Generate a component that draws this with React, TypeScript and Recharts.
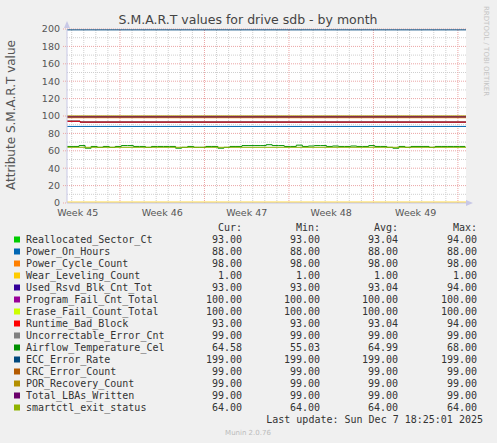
import { LineChart, Line, XAxis, YAxis, CartesianGrid, ReferenceLine } from "recharts";

// time in days from the left edge of the graph
const sampleDays = [
  0, 0.5, 1, 1.5, 2, 2.5, 3, 3.5, 4, 4.5,
  5, 5.5, 6, 6.5, 7, 7.5, 8, 8.5, 9, 9.5,
  10, 10.5, 11, 11.5, 12, 12.5, 13, 13.5, 14, 14.5,
  15, 15.5, 16, 16.5, 17, 17.5, 18, 18.5, 19, 19.5,
  20, 20.5, 21, 21.5, 22, 22.5, 23, 23.5, 24, 24.5,
  25, 25.5, 26, 26.5, 27, 27.5, 28, 28.5, 29, 29.5,
  30, 30.5, 31, 31.5, 32, 32.5, 33,
];

const airflowTemperature = [
  65, 65, 66, 63, 65, 64, 65, 64, 65, 66,
  66, 65, 65, 64, 65, 65, 65, 65, 63, 64,
  65, 64, 64, 65, 65, 63, 64, 65, 65, 66,
  66, 66, 66, 67, 66, 66, 65, 65, 66.5, 65,
  65.5, 66, 66, 65, 65.5, 65, 65, 65.5, 65, 65,
  66, 65, 65, 64, 63, 65, 64, 65, 65, 65,
  64, 65, 65, 65, 65, 65, 65,
];

const flatDays = [0, 33.06];
const stepDays = [0, 1.08, 33.06];

const reallocatedSector = [94, 93, 93];
const powerOnHours = [88, 88];
const powerCycleCount = [98, 98];
const wearLeveling = [1, 1];
const usedRsvdBlk = [94, 93, 93];
const programFail = [100, 100];
const eraseFail = [100, 100];
const runtimeBadBlock = [94, 93, 93];
const uncorrectableError = [99, 99];
const eccErrorRate = [199, 199];
const crcErrorCount = [99, 99];
const porRecovery = [99, 99];
const totalLbasWritten = [99, 99];
const smartctlExit = [64, 64];

const seriesNames = [
  "Reallocated_Sector_Ct",
  "Power_On_Hours",
  "Power_Cycle_Count",
  "Wear_Leveling_Count",
  "Used_Rsvd_Blk_Cnt_Tot",
  "Program_Fail_Cnt_Total",
  "Erase_Fail_Count_Total",
  "Runtime_Bad_Block",
  "Uncorrectable_Error_Cnt",
  "Airflow_Temperature_Cel",
  "ECC_Error_Rate",
  "CRC_Error_Count",
  "POR_Recovery_Count",
  "Total_LBAs_Written",
  "smartctl_exit_status",
];
const curValues = [93, 88, 98, 1, 93, 100, 100, 93, 99, 64.58, 199, 99, 99, 99, 64];
const minValues = [93, 88, 98, 1, 93, 100, 100, 93, 99, 55.03, 199, 99, 99, 99, 64];
const avgValues = [93.04, 88, 98, 1, 93.04, 100, 100, 93.04, 99, 64.99, 199, 99, 99, 99, 64];
const maxValues = [94, 88, 98, 1, 94, 100, 100, 94, 99, 68, 199, 99, 99, 99, 64];

const weekLabels = ["Week 45", "Week 46", "Week 47", "Week 48", "Week 49"];
const weekLabelDays = [0.89, 7.89, 14.89, 21.89, 28.89];
const weekStartDays = [4.39, 11.39, 18.39, 25.39, 32.39];
const yTicks = [0, 20, 40, 60, 80, 100, 120, 140, 160, 180, 200];
const yMinor = [10, 30, 50, 70, 90, 110, 130, 150, 170, 190];

const colors = [
  "#00CC00", "#0066B3", "#FF8000", "#FFCC00", "#330099",
  "#990099", "#CCFF00", "#FF0000", "#808080", "#008F00",
  "#00487D", "#B35A00", "#B38F00", "#6B006B", "#8FB300",
];

const pairs = (days: number[], vals: number[]) => days.map((t, i) => ({ t, v: vals[i] }));

const seriesData = [
  { d: pairs(stepDays, reallocatedSector), step: true },
  { d: pairs(flatDays, powerOnHours) },
  { d: pairs(flatDays, powerCycleCount) },
  { d: pairs(flatDays, wearLeveling) },
  { d: pairs(stepDays, usedRsvdBlk), step: true },
  { d: pairs(flatDays, programFail) },
  { d: pairs(flatDays, eraseFail) },
  { d: pairs(stepDays, runtimeBadBlock), step: true },
  { d: pairs(flatDays, uncorrectableError) },
  { d: pairs(sampleDays, airflowTemperature), step: true },
  { d: pairs(flatDays, eccErrorRate) },
  { d: pairs(flatDays, crcErrorCount) },
  { d: pairs(flatDays, porRecovery) },
  { d: pairs(flatDays, totalLbasWritten) },
  { d: pairs(flatDays, smartctlExit) },
];

// one gray line per day, skipping the week lines
const minorDays: number[] = [];
for (let t = 0.39; t < 33.06; t += 1) {
  if (!weekStartDays.some((w) => Math.abs(w - t) < 0.01)) minorDays.push(t);
}

const MINOR = "#CFCFCF";
const MAJOR = "#EBA5A5";
const AXIS = "#C8C8E6";
const MONO = "'DejaVu Sans Mono', monospace";
const SANS = "'DejaVu Sans', sans-serif";

const fmt = (n: number) => n.toFixed(2);

export default function App() {
  return (
    <div style={{ position: "absolute", left: 0, top: 0, width: 497, height: 443, background: "#F0F0F0" }}>
      <LineChart width={497} height={443} margin={{ top: 29, right: 31, left: 27, bottom: 220 }}>
        <CartesianGrid fill="#FFFFFF" horizontal={false} vertical={false} />
        {yMinor.map((y) => (
          <ReferenceLine key={"hy" + y} y={y} stroke={MINOR} strokeDasharray="1 1" />
        ))}
        {minorDays.map((t) => (
          <ReferenceLine key={"vx" + t} x={t} stroke={MINOR} strokeDasharray="1 1" />
        ))}
        {yTicks.slice(1).map((y) => (
          <ReferenceLine key={"my" + y} y={y} stroke={MAJOR} strokeDasharray="1 1" />
        ))}
        {weekStartDays.map((t) => (
          <ReferenceLine key={"mx" + t} x={t} stroke={MAJOR} strokeDasharray="1 1" />
        ))}
        <XAxis
          dataKey="t"
          type="number"
          domain={[0, 33.06]}
          ticks={weekLabelDays}
          tickFormatter={(v: number) => weekLabels[weekLabelDays.indexOf(v)]}
          tickLine={false}
          tickSize={0}
          tickMargin={6}
          height={20}
          axisLine={{ stroke: AXIS }}
          tick={{ fill: "#555", fontSize: 9.5, fontFamily: SANS }}
          allowDuplicatedCategory={false}
        />
        <YAxis
          type="number"
          domain={[0, 200]}
          ticks={yTicks}
          tickLine={{ stroke: MAJOR, strokeDasharray: "1 1" }}
          tickSize={4}
          tickMargin={3}
          width={40}
          axisLine={{ stroke: AXIS }}
          tick={{ fill: "#555", fontSize: 9.5, fontFamily: SANS }}
        />
        {seriesData.map((s, i) => (
          <Line
            key={seriesNames[i]}
            data={s.d}
            dataKey="v"
            type={s.step ? "stepAfter" : "linear"}
            stroke={colors[i]}
            strokeWidth={1}
            dot={false}
            isAnimationActive={false}
          />
        ))}
      </LineChart>
      <svg width={497} height={443} style={{ position: "absolute", left: 0, top: 0, pointerEvents: "none" }}>
        <text x={248} y={24} textAnchor="middle" fontFamily={SANS} fontSize={12.5} fill="#444">
          S.M.A.R.T values for drive sdb - by month
        </text>
        <text
          transform="translate(15,115) rotate(-90)"
          textAnchor="middle"
          fontFamily={SANS}
          fontSize={12}
          fill="#555"
        >
          Attribute S.M.A.R.T value
        </text>
        <text
          transform="translate(484,6) rotate(90)"
          fontFamily={SANS}
          fontSize={7}
          fill="#C4C4C4"
        >
          RRDTOOL / TOBI OETIKER
        </text>
        <polygon points="64,28 70,28 67,21" fill={AXIS} />
        <polygon points="466,200 466,206 473,203" fill={AXIS} />
        <g fontFamily={MONO} fontSize={10} fill="#333">
          <text x={242} y={231} textAnchor="end">Cur:</text>
          <text x={320} y={231} textAnchor="end">Min:</text>
          <text x={398} y={231} textAnchor="end">Avg:</text>
          <text x={477} y={231} textAnchor="end">Max:</text>
          {seriesNames.map((name, i) => {
            const y = 243 + i * 12;
            return (
              <g key={name}>
                <rect x={14} y={y - 6.5} width={6} height={6} fill={colors[i]} />
                <text x={26} y={y}>{name}</text>
                <text x={242} y={y} textAnchor="end">{fmt(curValues[i])}</text>
                <text x={320} y={y} textAnchor="end">{fmt(minValues[i])}</text>
                <text x={398} y={y} textAnchor="end">{fmt(avgValues[i])}</text>
                <text x={477} y={y} textAnchor="end">{fmt(maxValues[i])}</text>
              </g>
            );
          })}
          <text x={483} y={423} textAnchor="end">Last update: Sun Dec  7 18:25:01 2025</text>
        </g>
        <text x={248} y={435} textAnchor="middle" fontFamily={SANS} fontSize={7} fill="#BBBBBB">
          Munin 2.0.76
        </text>
      </svg>
    </div>
  );
}
